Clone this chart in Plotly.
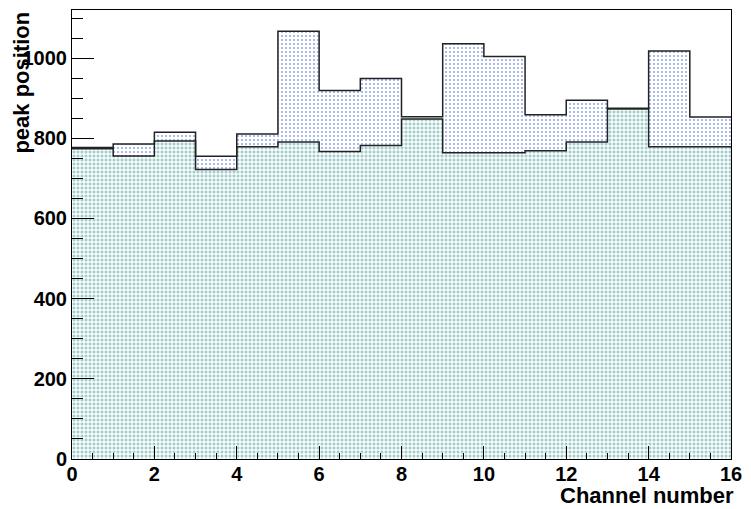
import plotly.graph_objects as go

channels = list(range(16))
peak_a = [777, 786, 815, 755, 811, 1067, 919, 949, 854, 1036, 1004, 859, 895, 873, 1018, 853]
peak_b = [774, 756, 793, 722, 779, 791, 767, 782, 848, 764, 764, 769, 791, 875, 779, 779]
x_ticks = [0, 2, 4, 6, 8, 10, 12, 14, 16]
y_ticks = [0, 200, 400, 600, 800, 1000]

centers = [c + 0.5 for c in channels]
edges = channels + [channels[-1] + 1]

fig = go.Figure()
fig.add_trace(go.Bar(
    x=centers, y=peak_a, width=1,
    marker=dict(color="#8fa6e8", line=dict(width=0),
                pattern=dict(shape=".", fgcolor="#93aae8", size=4, solidity=0.22, fillmode="replace")),
    showlegend=False, hoverinfo="skip"))
fig.add_trace(go.Bar(
    x=centers, y=peak_b, width=1,
    marker=dict(color="#9fd2c4", line=dict(width=0),
                pattern=dict(shape="+", fgcolor="#a4d4c7", size=4, solidity=0.38, fillmode="replace")),
    showlegend=False, hoverinfo="skip"))
fig.add_trace(go.Scatter(
    x=edges, y=peak_a + [peak_a[-1]], mode="lines", line=dict(shape="hv", color="#222", width=1.5),
    showlegend=False, hoverinfo="skip"))
fig.add_trace(go.Scatter(
    x=edges, y=peak_b + [peak_b[-1]], mode="lines", line=dict(shape="hv", color="#222", width=1.5),
    showlegend=False, hoverinfo="skip"))

tickfont = dict(family="Liberation Sans, Arial, sans-serif", size=20, color="black", weight="bold")
titlefont = dict(family="Liberation Sans, Arial, sans-serif", size=22, color="black", weight="bold")

fig.update_layout(
    width=751, height=509,
    margin=dict(l=72, r=12, t=9, b=50),
    paper_bgcolor="white", plot_bgcolor="white",
    barmode="overlay", bargap=0,
    xaxis=dict(range=[0, 16], tickvals=x_ticks, ticks="inside", ticklen=13, tickwidth=1, tickcolor="black",
               minor=dict(dtick=0.5, ticks="inside", ticklen=6, tickcolor="black"),
               showgrid=False, zeroline=False, showline=True, linecolor="black", linewidth=1, mirror=True,
               tickfont=tickfont, layer="above traces", ticklabelstandoff=-3),
    yaxis=dict(range=[0, 1120], tickvals=y_ticks, ticks="inside", ticklen=22, tickwidth=1, tickcolor="black",
               minor=dict(dtick=50, ticks="inside", ticklen=11, tickcolor="black"),
               showgrid=False, zeroline=False, showline=True, linecolor="black", linewidth=1, mirror=True,
               tickfont=tickfont, layer="above traces"),
    annotations=[
        dict(text="peak position", textangle=-90, xref="paper", yref="paper", x=-0.078, y=1.0,
             xanchor="center", yanchor="top", showarrow=False, font=titlefont),
        dict(text="Channel number", xref="paper", yref="paper", x=1.006, y=-0.081,
             xanchor="right", yanchor="middle", showarrow=False, font=titlefont, borderpad=0),
    ],
)

fig.write_html("out.html")
